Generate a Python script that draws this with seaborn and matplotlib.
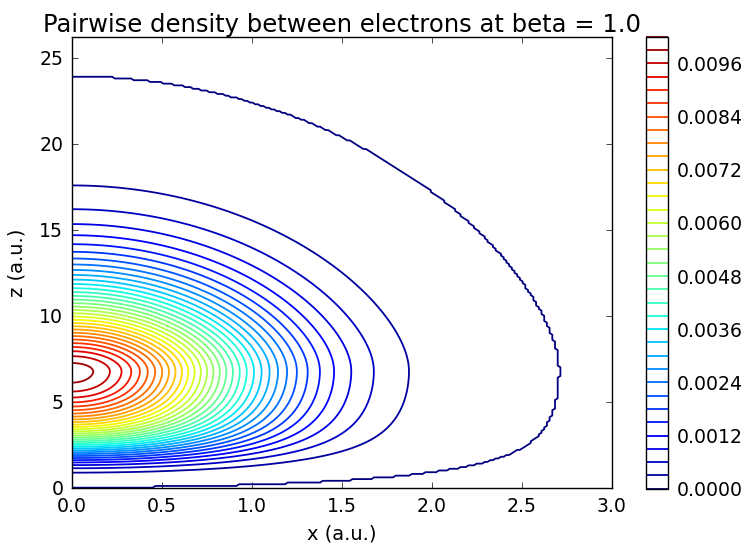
import numpy as np
import matplotlib
matplotlib.use("Agg")
import matplotlib.pyplot as plt
import seaborn as sns

# ---------------- data ----------------
title_text = "Pairwise density between electrons at beta = 1.0"
x_label = "x (a.u.)"
z_label = "z (a.u.)"

x_limits = [0.0, 3.0]
z_limits = [0.0, 26.18]
n_x_points = 201
n_z_points = 263

contour_levels = [0.0000, 0.0003, 0.0006, 0.0009, 0.0012, 0.0015, 0.0018,
                  0.0021, 0.0024, 0.0027, 0.0030, 0.0033, 0.0036, 0.0039,
                  0.0042, 0.0045, 0.0048, 0.0051, 0.0054, 0.0057, 0.0060,
                  0.0063, 0.0066, 0.0069, 0.0072, 0.0075, 0.0078, 0.0081,
                  0.0084, 0.0087, 0.0090, 0.0093, 0.0096, 0.0099, 0.0102]
colorbar_ticks = [0.0000, 0.0012, 0.0024, 0.0036, 0.0048,
                  0.0060, 0.0072, 0.0084, 0.0096]
x_ticks = [0.0, 0.5, 1.0, 1.5, 2.0, 2.5, 3.0]
z_ticks = [0, 5, 10, 15, 20, 25]

# density model, parameters fitted to the contour positions in the picture
peak_density = 0.0101      # maximum of the pair density
peak_z = 6.7               # z of the maximum (at x = 0)
x_width = 1.0              # gaussian width along x
upper_scale = 4.78         # decay above the maximum
upper_power = 1.568
upper_core = 1.5           # rounding of the top near the maximum
lower_scale = 6.17         # gaussian-like decay below the maximum
hole_strength = 6.6        # depletion close to z = 0
hole_length = 0.95
cutoff_exponent = 7.3      # density underflows to exactly 0 beyond this

# ---------------- style ----------------
sns.set_theme(style="ticks", context="notebook")
plt.rcParams.update({
    "font.family": ["DejaVu Sans"],
    "font.size": 13.6,
    "axes.titlesize": 17.5,
    "axes.labelsize": 14,
    "xtick.labelsize": 13.6,
    "ytick.labelsize": 13.6,
    "axes.edgecolor": "black",
    "axes.linewidth": 1.0,
    "axes.facecolor": "white",
    "figure.facecolor": "white",
    "xtick.direction": "in",
    "ytick.direction": "in",
    "xtick.top": True,
    "ytick.right": True,
    "xtick.major.size": 4,
    "ytick.major.size": 4,
    "xtick.major.width": 0.5,
    "ytick.major.width": 0.5,
    "xtick.major.pad": 6.5,
    "ytick.major.pad": 6,
    "xtick.color": "black",
    "ytick.color": "black",
    "text.color": "black",
    "axes.labelcolor": "black",
    "axes.titlepad": 4.0,
    "axes.grid": False,
})

# ---------------- field ----------------
xs = np.linspace(x_limits[0], x_limits[1], n_x_points)
zs = np.linspace(z_limits[0], z_limits[1], n_z_points)
X, Z = np.meshgrid(xs, zs)
dz = Z - peak_z
g_x = (X / x_width) ** 2
g_up = (((dz ** 2 + upper_core ** 2) ** (upper_power / 2) - upper_core ** upper_power)
        / upper_scale ** upper_power)
g_low = (dz / lower_scale) ** 2
g = g_x + np.where(dz >= 0, g_up, g_low) + hole_strength * np.exp(-Z / hole_length)
F = peak_density * np.exp(-g)
F[g > cutoff_exponent] = 0.0

# ---------------- figure ----------------
fig = plt.figure(figsize=(7.49, 5.50), dpi=100)
ax = fig.add_axes([0.0957, 0.1133, 0.7210, 0.8190])
cax = fig.add_axes([0.8625, 0.1115, 0.0298, 0.8215])

cs = ax.contour(X, Z, F, levels=contour_levels, cmap="jet", linewidths=1.3)
ax.set_xlim(x_limits)
ax.set_ylim(z_limits)
ax.set_xticks(x_ticks)
ax.set_yticks(z_ticks)
ax.set_xticklabels([f"{v:.1f}" for v in x_ticks])
ax.set_yticklabels([f"{v:d}" for v in z_ticks])
ax.set_xlabel(x_label, labelpad=6)
ax.set_ylabel(z_label, labelpad=9)
ax.set_title(title_text)
for s in ax.spines.values():
    s.set_visible(True)
    s.set_color("black")

cb = fig.colorbar(cs, cax=cax, ticks=colorbar_ticks, format="%.4f")
cb.outline.set_edgecolor("black")
cb.outline.set_linewidth(1.0)
cax.tick_params(axis="y", direction="in", length=4, width=0.5, right=True,
                left=False, labelsize=13.6, pad=6)

fig.savefig("out.png", dpi=100)
